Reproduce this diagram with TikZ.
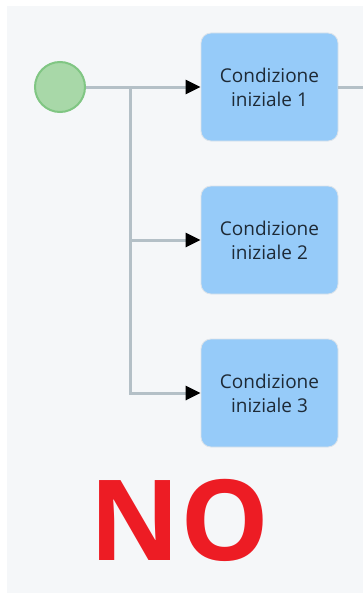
\documentclass[tikz,border=0pt]{standalone}
\usepackage{fontspec}
\setmainfont{Open Sans}
\usetikzlibrary{arrows.meta, positioning}
\definecolor{panelbg}{HTML}{F5F7F9}
\definecolor{boxfill}{HTML}{96CBF9}
\definecolor{boxedge}{HTML}{DCE3EA}
\definecolor{startfill}{HTML}{A8D8A8}
\definecolor{startedge}{HTML}{80C683}
\definecolor{flowline}{HTML}{B4C0C7}
\definecolor{notext}{HTML}{ED1C24}
\definecolor{condtext}{HTML}{1E2A36}
\tikzset{
  condbox/.style={draw=boxedge, line width=0.8pt, fill=boxfill, rounded corners=10pt,
    minimum width=137pt, minimum height=108pt, align=center, text=condtext,
    font=\fontsize{19pt}{24pt}\selectfont},
  startev/.style={circle, draw=startedge, line width=2pt, fill=startfill, minimum size=50pt, inner sep=0pt},
  flow/.style={draw=flowline, line width=3pt},
  flowarrow/.style={flow, -{Triangle[length=15pt,width=14pt,fill=black,color=black]}}
}

\begin{document}
\begin{tikzpicture}[x=1pt,y=-1pt]
\useasboundingbox (0.000000,0.000000) rectangle (363.000000,594.000000);
\fill [panelbg] (7.000000,6.000000) rectangle (363.000000,593.000000);
\node (start) at (60.000000,87.000000) [startev] {};
\node (cond1) at (269.500000,87.000000) [condbox] {Condizione\\iniziale 1};
\node (cond2) at (269.500000,240.000000) [condbox] {Condizione\\iniziale 2};
\node (cond3) at (269.500000,393.000000) [condbox] {Condizione\\iniziale 3};
\node (nolabel) at (180.000000,520.000000) [inner sep=0pt, text=notext, font=\bfseries\fontsize{112pt}{112pt}\selectfont] {NO};
\coordinate (split) at (130.000000,87.000000);
\coordinate (exit) at (363.000000,87.000000);
\draw [flow] (start) -- (split);
\draw [flowarrow] (split) -- (cond1);
\draw [flowarrow] (split) |- (cond2);
\draw [flowarrow] (split) |- (cond3);
\draw [flow] (cond1) -- (exit);
\end{tikzpicture}
\end{document}
